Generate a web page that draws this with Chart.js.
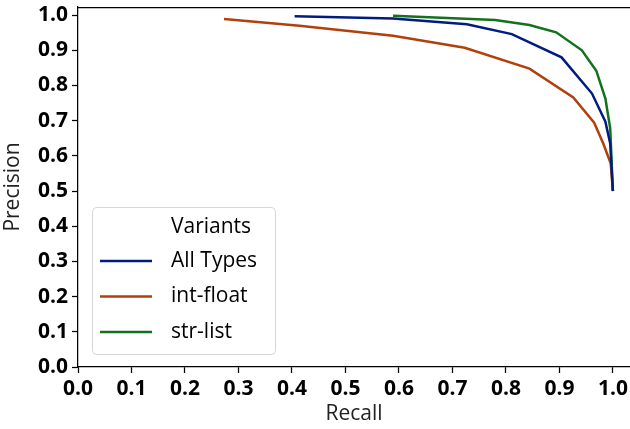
<!DOCTYPE html>
<html>
<head>
<meta charset="utf-8">
<script src="https://cdn.jsdelivr.net/npm/chart.js@4/dist/chart.umd.min.js"></script>
<style>
  html, body { margin: 0; padding: 0; background: #fff; }
  canvas { display: block; }
</style>
</head>
<body>
<canvas id="chart" width="630" height="429"></canvas>
<script>
const seriesNames = ["All Types", "int-float", "str-list"];
const seriesColors = ["#001c7f", "#b1400d", "#12711c"];

const allTypesRecall = [0.405, 0.589, 0.727, 0.811, 0.904, 0.961, 0.986, 0.995, 1.0];
const allTypesPrecision = [0.997, 0.990, 0.974, 0.946, 0.880, 0.777, 0.697, 0.635, 0.5];

const intFloatRecall = [0.273, 0.414, 0.589, 0.723, 0.844, 0.926, 0.965, 0.982, 0.996, 1.0];
const intFloatPrecision = [0.989, 0.970, 0.941, 0.907, 0.848, 0.766, 0.694, 0.635, 0.578, 0.5];

const strListRecall = [0.589, 0.780, 0.844, 0.894, 0.942, 0.969, 0.986, 0.995, 1.0];
const strListPrecision = [0.998, 0.986, 0.972, 0.951, 0.900, 0.842, 0.763, 0.678, 0.5];

const tickValues = [0, 0.1, 0.2, 0.3, 0.4, 0.5, 0.6, 0.7, 0.8, 0.9, 1.0];

const recalls = [allTypesRecall, intFloatRecall, strListRecall];
const precisions = [allTypesPrecision, intFloatPrecision, strListPrecision];

const FONT = "'Open Sans', 'DejaVu Sans', sans-serif";

const datasets = seriesNames.map((name, i) => ({
    label: name,
    data: recalls[i].map((r, j) => ({ x: r, y: precisions[i][j] })),
    borderColor: seriesColors[i],
    backgroundColor: seriesColors[i],
    borderWidth: 2.5,
    pointRadius: 0,
    showLine: true,
    fill: false,
    tension: 0
}));

// top spine
const frame = {
    id: "frame",
    afterDraw(chart) {
        const { ctx, chartArea } = chart;
        ctx.save();
        ctx.strokeStyle = "#000";
        ctx.lineWidth = 1.25;
        ctx.beginPath();
        ctx.moveTo(chartArea.left, chartArea.top + 0.5);
        ctx.lineTo(chartArea.right, chartArea.top + 0.5);
        ctx.stroke();
        ctx.restore();
    }
};

// matplotlib-like legend inside the plot
const boxLegend = {
    id: "boxLegend",
    afterDraw(chart) {
        const ctx = chart.ctx;
        const x = 92, y = 207, w = 183, h = 147;
        ctx.save();
        ctx.fillStyle = "rgba(255,255,255,0.8)";
        ctx.strokeStyle = "#d6d6d6";
        ctx.lineWidth = 1;
        ctx.beginPath();
        ctx.roundRect(x + 0.5, y + 0.5, w, h, 4);
        ctx.fill();
        ctx.stroke();

        ctx.fillStyle = "#000";
        ctx.font = "500 21px " + FONT;
        ctx.textBaseline = "middle";
        ctx.textAlign = "left";
        ctx.fillText("Variants", 171, 227);

        chart.data.datasets.forEach((ds, i) => {
            const ly = 261 + i * 35.5;
            ctx.strokeStyle = ds.borderColor;
            ctx.lineWidth = 2.5;
            ctx.beginPath();
            ctx.moveTo(100, ly);
            ctx.lineTo(152, ly);
            ctx.stroke();
            ctx.fillStyle = "#000";
            ctx.fillText(ds.label, 171, ly);
        });
        ctx.restore();
    }
};

new Chart(document.getElementById("chart"), {
    type: "scatter",
    data: { datasets },
    options: {
        responsive: false,
        animation: false,
        layout: { padding: { top: 7, right: 0, bottom: 0, left: 0 } },
        plugins: {
            legend: { display: false },
            tooltip: { enabled: false }
        },
        scales: {
            x: {
                type: "linear",
                min: 0,
                max: 1.032,
                afterBuildTicks: scale => { scale.ticks = tickValues.map(v => ({ value: v })); },
                afterFit: scale => {
                    scale.height = 62;
                    scale.paddingLeft = 0;
                    scale.paddingRight = 0;
                },
                ticks: {
                    color: "#000",
                    padding: 3,
                    maxRotation: 0,
                    font: { family: FONT, size: 21, weight: "bold" },
                    callback: v => v.toFixed(1)
                },
                grid: { drawOnChartArea: false, drawTicks: true, tickLength: 6, color: "#000", tickWidth: 1.25 },
                border: { display: true, color: "#000", width: 1.25 },
                title: {
                    display: true,
                    text: "Recall",
                    color: "#222",
                    padding: { top: 0, bottom: 2 },
                    font: { family: FONT, size: 21 }
                }
            },
            y: {
                type: "linear",
                min: 0,
                max: 1.023,
                afterBuildTicks: scale => { scale.ticks = tickValues.map(v => ({ value: v })); },
                afterFit: scale => {
                    scale.width = 78;
                    scale.paddingTop = 0;
                    scale.paddingBottom = 0;
                },
                ticks: {
                    color: "#000",
                    padding: 4,
                    font: { family: FONT, size: 21, weight: "bold" },
                    callback: v => v.toFixed(1)
                },
                grid: { drawOnChartArea: false, drawTicks: true, tickLength: 6, color: "#000", tickWidth: 1.25 },
                border: { display: true, color: "#000", width: 1.25 },
                title: {
                    display: true,
                    text: "Precision",
                    color: "#222",
                    padding: { top: 0, bottom: 0 },
                    font: { family: FONT, size: 21 }
                }
            }
        }
    },
    plugins: [frame, boxLegend]
});
</script>
</body>
</html>
